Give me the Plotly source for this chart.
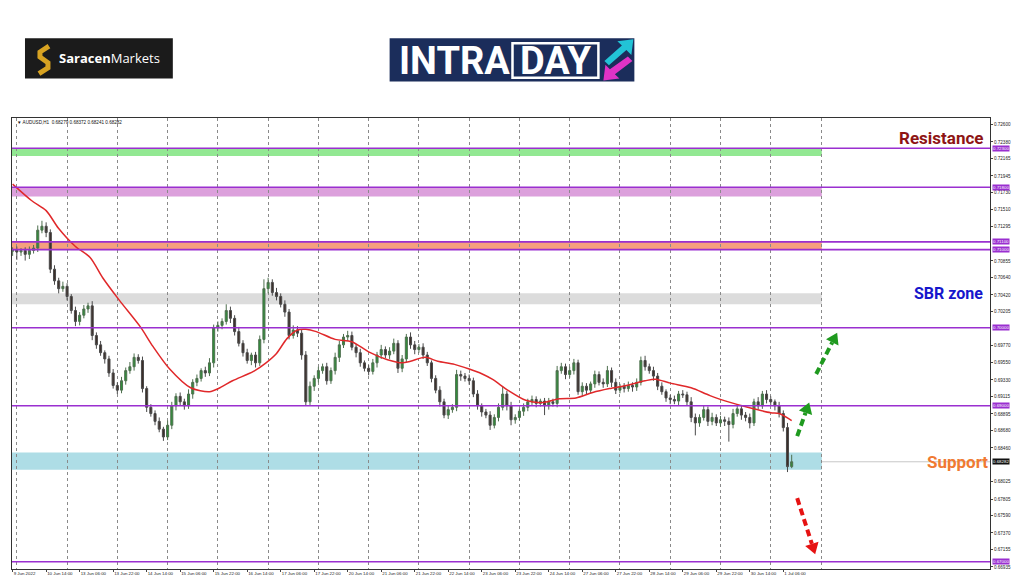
import math
import plotly.graph_objects as go

# ---------------- data ----------------
x_tick_labels = ["9 Jun 2022", "10 Jun 14:00", "13 Jun 06:00", "13 Jun 22:00", "14 Jun 14:00",
                 "15 Jun 06:00", "15 Jun 22:00", "16 Jun 14:00", "17 Jun 06:00", "17 Jun 22:00",
                 "20 Jun 14:00", "21 Jun 06:00", "21 Jun 22:00", "22 Jun 14:00", "23 Jun 06:00",
                 "23 Jun 22:00", "24 Jun 14:00", "27 Jun 06:00", "27 Jun 22:00", "28 Jun 14:00",
                 "29 Jun 06:00", "29 Jun 22:00", "30 Jun 14:00", "1 Jul 06:00"]
x_tick_bars = [0, 16, 32, 48, 64, 80, 96, 112, 128, 144, 160, 176, 192, 208, 224, 240,
               256, 272, 288, 304, 320, 336, 352, 368]
grid_bars = [2, 26, 50, 74, 98, 122, 146, 170, 194, 218, 242, 266, 290, 314, 338, 362, 386]

# candles (2-hour steps, hour index), prices in pips (x 0.0001)
candle_bars = list(range(0, 373, 2))
first_open = 7098
close_pips = [
    7100, 7097, 7099, 7094, 7099, 7102, 7125, 7130, 7122, 7075,
    7060, 7050, 7053, 7040, 7022, 7008, 7016, 7024, 7028, 6990,
    6978, 6968, 6960, 6942, 6926, 6920, 6932, 6945, 6950, 6962,
    6958, 6922, 6898, 6890, 6880, 6870, 6860, 6875, 6900, 6912,
    6905, 6900, 6915, 6930, 6935, 6945, 6942, 6955, 7000, 7003,
    7008, 7022, 7012, 6995, 6980, 6968, 6958, 6965, 6955, 6985,
    7050, 7058, 7045, 7040, 7030, 7020, 6990, 6997, 6993, 6965,
    6905, 6925, 6935, 6945, 6950, 6932, 6945, 6962, 6978, 6988,
    6990, 6975, 6968, 6955, 6948, 6944, 6955, 6965, 6972, 6965,
    6970, 6980, 6948, 6960, 6988, 6978, 6972, 6975, 6965, 6955,
    6935, 6920, 6905, 6888, 6895, 6898, 6940, 6938, 6935, 6932,
    6915, 6900, 6892, 6888, 6875, 6885, 6898, 6915, 6900, 6882,
    6885, 6893, 6898, 6905, 6908, 6903, 6906, 6900, 6905, 6903,
    6945, 6950, 6940, 6945, 6955, 6918, 6925, 6920, 6928, 6940,
    6930, 6928, 6945, 6930, 6920, 6925, 6922, 6926, 6924, 6930,
    6958, 6950, 6945, 6938, 6925, 6918, 6910, 6908, 6906, 6915,
    6914, 6905, 6885, 6878, 6885, 6895, 6880, 6885, 6878, 6882,
    6880, 6876, 6890, 6896, 6888, 6885, 6878, 6905, 6900, 6915,
    6908, 6905, 6900, 6890, 6872, 6822, 6828.2]
wick_up_pips = [
    3, 4, 3, 4, 5, 4, 6, 7, 5, 4,
    5, 4, 6, 4, 3, 5, 4, 5, 4, 6,
    4, 5, 3, 4, 5, 4, 5, 4, 6, 5,
    4, 5, 3, 4, 4, 5, 3, 6, 5, 4,
    5, 4, 6, 4, 5, 3, 5, 6, 4, 5,
    4, 8, 5, 4, 6, 4, 5, 3, 4, 5,
    12, 6, 4, 6, 4, 5, 4, 6, 5, 4,
    5, 6, 4, 5, 4, 5, 4, 6, 5, 4,
    6, 5, 4, 5, 3, 4, 5, 4, 6, 4,
    5, 6, 4, 5, 4, 6, 5, 4, 5, 4,
    3, 4, 5, 4, 5, 4, 6, 5, 4, 5,
    4, 5, 3, 4, 5, 4, 5, 10, 4, 5,
    4, 3, 5, 4, 5, 4, 3, 4, 5, 4,
    6, 5, 4, 5, 5, 4, 5, 4, 3, 5,
    4, 5, 6, 4, 5, 3, 4, 5, 4, 5,
    5, 6, 4, 5, 4, 5, 3, 4, 5, 4,
    5, 4, 6, 5, 4, 5, 4, 6, 4, 5,
    4, 5, 6, 4, 5, 4, 5, 4, 6, 4,
    5, 4, 3, 5, 4, 6, 9]
wick_dn_pips = [
    6, 10, 5, 8, 6, 4, 5, 4, 6, 5,
    5, 6, 4, 5, 4, 6, 5, 4, 5, 6,
    5, 4, 6, 5, 4, 5, 4, 5, 4, 5,
    4, 5, 6, 4, 5, 4, 5, 4, 5, 6,
    4, 5, 4, 6, 5, 4, 5, 4, 6, 5,
    5, 4, 6, 5, 4, 5, 4, 6, 6, 4,
    5, 6, 4, 5, 4, 6, 5, 4, 5, 6,
    5, 4, 6, 5, 4, 5, 4, 5, 6, 4,
    5, 4, 6, 5, 4, 5, 4, 6, 5, 4,
    5, 4, 6, 5, 4, 5, 6, 4, 5, 4,
    5, 4, 6, 4, 5, 4, 5, 6, 4, 5,
    4, 5, 6, 4, 6, 4, 5, 4, 6, 7,
    5, 4, 6, 5, 4, 5, 4, 12, 5, 4,
    5, 4, 6, 4, 5, 4, 6, 5, 4, 5,
    4, 5, 4, 6, 5, 4, 5, 4, 6, 5,
    4, 5, 4, 6, 5, 4, 5, 6, 4, 5,
    4, 5, 6, 16, 5, 4, 6, 5, 4, 5,
    6, 22, 5, 4, 6, 5, 7, 4, 5, 4,
    5, 4, 6, 5, 5, 7, 2]

# moving average (hour index, pips)
ma_bars = [0, 9, 16, 22, 30, 37, 43, 51, 61, 67,
           75, 85, 94, 99, 105, 115, 121, 126, 131, 136,
           140, 145, 154, 162, 170, 179, 186, 190, 197, 203,
           211, 218, 224, 229, 237, 245, 253, 261, 269, 277,
           285, 293, 302, 307, 314, 324, 333, 343, 351, 362,
           366, 372]
ma_pips = [7184, 7163, 7150, 7127, 7104, 7090, 7064, 7035, 7001, 6976,
           6947, 6923, 6918, 6923, 6932, 6944, 6955, 6967, 6986, 6997,
           6998, 6995, 6985, 6982, 6969, 6959, 6955, 6957, 6962, 6957,
           6953, 6947, 6941, 6934, 6919, 6907, 6904, 6909, 6910, 6917,
           6922, 6926, 6932, 6934, 6929, 6923, 6913, 6904, 6898, 6891,
           6890, 6881]

# visible price-scale ticks (the ones hidden under the level labels are left out)
price_ticks = [0.72600, 0.72380, 0.72165, 0.71945, 0.71730, 0.71510, 0.71295,
               0.70855, 0.70640, 0.70420, 0.70205, 0.69770, 0.69550, 0.69330,
               0.69115, 0.68895, 0.68680, 0.68460, 0.68025, 0.67805, 0.67590,
               0.67370, 0.67155, 0.66935]
level_prices = [0.72300, 0.71800, 0.71100, 0.71000, 0.70000, 0.69000, 0.67000]
zone_low = [0.7220, 0.7168, 0.7100, 0.7030, 0.6818]
zone_high = [0.7230, 0.7180, 0.7110, 0.7044, 0.6840]
zone_colors = ["#92e892", "#dca0dc", "#f6a07e", "#dcdcdc", "#aedde6"]
zone_end_bar = 386.4
current_price = 0.68282
header_text = "▼ AUDUSD,H1  0.68279 0.68372 0.68241 0.68282"

# ---------------- derived OHLC ----------------
opens = [first_open] + close_pips[:-1]
o = [v / 10000 for v in opens]
c = [v / 10000 for v in close_pips]
h = [(max(a, b) + u) / 10000 for a, b, u in zip(opens, close_pips, wick_up_pips)]
l = [(min(a, b) - d) / 10000 for a, b, d in zip(opens, close_pips, wick_dn_pips)]
ma = [v / 10000 for v in ma_pips]

# pixel -> paper helpers for decorations (plot area x 11..990, y 118..576)
L_PX, R_PX, T_PX, B_PX = 11, 990, 118, 576
def PX(x):
    return (x - L_PX) / (R_PX - L_PX)
def PY(y):
    return (B_PX - y) / (B_PX - T_PX)
def path(points, close=True):
    s = "M " + " L ".join(f"{PX(x):.5f},{PY(y):.5f}" for x, y in points)
    return s + (" Z" if close else "")

fig = go.Figure()
fig.add_trace(go.Candlestick(
    x=candle_bars, open=o, high=h, low=l, close=c,
    increasing=dict(line=dict(color="#4f6f4f", width=1), fillcolor="#2f8f3a"),
    decreasing=dict(line=dict(color="#4a4a4a", width=1), fillcolor="#3d2f2a"),
    whiskerwidth=0, showlegend=False, hoverinfo="skip"))
fig.add_trace(go.Scatter(x=ma_bars, y=ma, mode="lines",
                         line=dict(color="#e0282a", width=1.5, shape="spline", smoothing=0.8),
                         showlegend=False, hoverinfo="skip"))

shapes = []
# current price line (under the zones)
shapes.append(dict(type="line", xref="paper", yref="y", x0=0, x1=1, y0=current_price, y1=current_price,
                   line=dict(color="#c8c8c8", width=1), layer="below"))
for lo, hi, col in zip(zone_low, zone_high, zone_colors):
    shapes.append(dict(type="rect", xref="x", yref="y", x0=-1, x1=zone_end_bar, y0=lo, y1=hi,
                       fillcolor=col, line=dict(width=0), layer="below"))
for lv in level_prices:
    shapes.append(dict(type="line", xref="paper", yref="y", x0=0, x1=1, y0=lv, y1=lv,
                       line=dict(color="#9a2fd0", width=1.6), layer="above"))

# logos
shapes.append(dict(type="rect", xref="paper", yref="paper", x0=PX(24), x1=PX(172), y0=PY(78), y1=PY(37),
                   fillcolor="#1b1b1b", line=dict(width=0)))
shapes.append(dict(type="path", xref="paper", yref="paper",
                   path=path([(48, 45), (39, 51), (39, 56), (47, 62), (47, 67), (38, 73)], close=False),
                   line=dict(color="#d8a322", width=5)))
shapes.append(dict(type="rect", xref="paper", yref="paper", x0=PX(389), x1=PX(634), y0=PY(81), y1=PY(37),
                   fillcolor="#1b2d5b", line=dict(width=0)))
shapes.append(dict(type="rect", xref="paper", yref="paper", x0=PX(512), x1=PX(598), y0=PY(77), y1=PY(42),
                   fillcolor="rgba(0,0,0,0)", line=dict(color="white", width=2.5)))
shapes.append(dict(type="path", xref="paper", yref="paper",
                   path=path([(633, 38), (617, 40), (621.5, 44.5), (604, 60), (608.5, 64.5), (626, 49), (631, 54)]),
                   fillcolor="#22c3d6", line=dict(width=0)))
shapes.append(dict(type="path", xref="paper", yref="paper",
                   path=path([(603, 80), (619, 78), (614.5, 73.5), (632, 60), (627.5, 55.5), (609.5, 68.5), (605, 64)]),
                   fillcolor="#e033c6", line=dict(width=0)))

# dashed forecast arrows
def dashed_arrow(a, b, color):
    dx, dy = b[0] - a[0], b[1] - a[1]
    n = math.hypot(dx, dy)
    ux, uy = dx / n, dy / n
    hl, hw = 11, 7
    cx, cy = b[0] - hl * ux, b[1] - hl * uy
    px_, py_ = -uy, ux
    shapes.append(dict(type="line", xref="paper", yref="paper",
                       x0=PX(a[0]), y0=PY(a[1]), x1=PX(cx), y1=PY(cy),
                       line=dict(color=color, width=4, dash="7px,4px")))
    shapes.append(dict(type="path", xref="paper", yref="paper",
                       path=path([b, (cx + hw * px_, cy + hw * py_), (cx - hw * px_, cy - hw * py_)]),
                       fillcolor=color, line=dict(width=0)))

dashed_arrow((797, 441), (809, 407), "#1f9a1f")
dashed_arrow((816, 378), (837, 336), "#1f9a1f")
dashed_arrow((797, 504), (815, 561), "#e61212")

annotations = []
for lv in level_prices:
    annotations.append(dict(xref="paper", yref="y", x=1.0, y=lv, xanchor="left", yanchor="middle",
                            text=f"{lv:.5f}", showarrow=False, bgcolor="#9a2fd0",
                            font=dict(size=4.4, color="white", family="Liberation Sans"),
                            borderpad=0, xshift=2))
annotations.append(dict(xref="paper", yref="y", x=1.0, y=current_price, xanchor="left", yanchor="middle",
                        text=f"{current_price:.5f}", showarrow=False, bgcolor="#111111",
                        font=dict(size=4.4, color="white", family="Liberation Sans"),
                        borderpad=0, xshift=2))
annotations.append(dict(xref="paper", yref="paper", x=PX(14), y=PY(123), xanchor="left", yanchor="middle",
                        text=header_text, showarrow=False,
                        font=dict(size=4.6, color="#111", family="Liberation Sans")))
annotations.append(dict(xref="paper", yref="paper", x=PX(985), y=PY(138), xanchor="right", yanchor="middle",
                        text="<b>Resistance</b>", showarrow=False,
                        font=dict(size=17, color="#8e1414", family="Roboto")))
annotations.append(dict(xref="paper", yref="paper", x=PX(985), y=PY(296), xanchor="right", yanchor="middle",
                        text="<b>SBR zone</b>", showarrow=False,
                        font=dict(size=16, color="#1616cc", family="Roboto")))
annotations.append(dict(xref="paper", yref="paper", x=PX(990), y=PY(467), xanchor="right", yanchor="middle",
                        text="<b>Support</b>", showarrow=False,
                        font=dict(size=17, color="#f07a32", family="Roboto")))
annotations.append(dict(xref="paper", yref="paper", x=PX(56), y=PY(57), xanchor="left", yanchor="middle",
                        text="<b>Saracen</b>Markets", showarrow=False,
                        font=dict(size=13, color="white", family="Open Sans")))
annotations.append(dict(xref="paper", yref="paper", x=PX(396), y=PY(60), xanchor="left", yanchor="middle",
                        text="<b>INTRA</b>", showarrow=False,
                        font=dict(size=38, color="white", family="Roboto")))
annotations.append(dict(xref="paper", yref="paper", x=PX(555), y=PY(60), xanchor="center", yanchor="middle",
                        text="<b>DAY</b>", showarrow=False,
                        font=dict(size=38, color="white", family="Roboto")))

fig.update_layout(
    width=1024, height=587, autosize=False,
    margin=dict(l=L_PX, r=1024 - R_PX, t=T_PX, b=587 - B_PX),
    paper_bgcolor="white", plot_bgcolor="white",
    shapes=shapes, annotations=annotations,
    font=dict(family="Liberation Sans", color="#222"),
    xaxis=dict(range=[-0.3, 466.7], rangeslider=dict(visible=False),
               tickmode="array", tickvals=x_tick_bars, ticktext=x_tick_labels, tickangle=0,
               ticklabelposition="outside right", ticks="outside", ticklen=2, tickcolor="#444",
               tickfont=dict(size=4.4, color="#222"),
               showgrid=False, zeroline=False,
               showline=True, mirror=True, linecolor="#333", linewidth=1,
               minor=dict(tickmode="array", tickvals=grid_bars, showgrid=True,
                          gridcolor="#8a8a8a", griddash="dot", gridwidth=1, ticks="")),
    yaxis=dict(side="right", range=[0.66908, 0.72687],
               tickmode="array", tickvals=price_ticks, ticktext=[f"{v:.5f}" for v in price_ticks],
               ticks="outside", ticklen=2, tickcolor="#444",
               tickfont=dict(size=4.6, color="#222"),
               showgrid=False, zeroline=False,
               showline=True, mirror=True, linecolor="#333", linewidth=1),
)

fig.write_html("out.html", config={"displayModeBar": False},
               post_script="document.body.style.margin='0';document.body.style.overflow='hidden';")
